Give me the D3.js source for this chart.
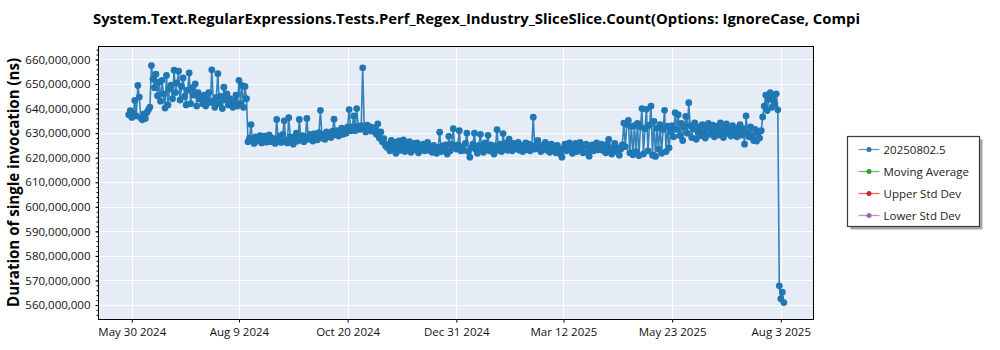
<!DOCTYPE html>
<html><head><meta charset="utf-8">
<script src="https://cdn.jsdelivr.net/npm/d3@7/dist/d3.min.js"></script>
<style>body{margin:0;background:#fff}text{font-family:"Open Sans","Noto Sans",sans-serif}</style>
</head><body><svg id="c" width="1000" height="350"></svg>
<script>
// ---------- data ----------
const chartTitle = "System.Text.RegularExpressions.Tests.Perf_Regex_Industry_SliceSlice.Count(Options: IgnoreCase, Compi";
const yTitle = "Duration of single invocation (ns)";
const legendNames = ["20250802.5", "Moving Average", "Upper Std Dev", "Lower Std Dev"];
const legendColors = ["#1f77b4", "#2ca02c", "#d62728", "#9467bd"];
const firstRunDate = "2024-05-28";           // one run per day from this date
const xDomain = ["2024-05-07T22:34:00Z", "2025-08-24T16:00:00Z"];
const yDomainM = [554.1, 665.28];            // millions of ns
const xTickDates = ["2024-05-30", "2024-08-09", "2024-10-20", "2024-12-31", "2025-03-12", "2025-05-23", "2025-08-03"];
const xTickLabels = ["May 30 2024", "Aug 9 2024", "Oct 20 2024", "Dec 31 2024", "Mar 12 2025", "May 23 2025", "Aug 3 2025"];
const yTicksM = [560, 570, 580, 590, 600, 610, 620, 630, 640, 650, 660];
// run durations, in millions of ns
const valuesM = [
  637.5, 639.2, 636.4, 638.1, 643.3, 637.0, 649.4, 644.7, 636.2, 635.4, 637.8, 636.0, 638.4, 639.5, 640.6,
  657.5, 652.0, 648.5, 654.0, 645.2, 650.8, 643.0, 651.5, 646.0, 640.2,
  653.5, 641.5, 648.0, 649.5, 644.0, 655.6, 646.5, 650.5, 655.2, 643.5,
  649.0, 652.5, 645.0, 641.5, 647.5, 654.5, 642.0, 648.5, 645.5, 650.0,
  641.0, 646.5, 644.0,
  644.5, 642.0, 645.5, 641.0, 643.5, 646.5, 642.5, 655.8, 643.0, 640.5,
  644.5, 654.2, 642.0, 645.0, 640.0, 648.7, 643.5, 646.0, 641.5, 644.0,
  642.5, 640.5, 643.0, 645.5, 641.0, 651.5, 642.0, 649.4, 640.5, 649.0,
  644.0,
  626.5, 628.0, 633.5, 627.0, 625.8, 628.5, 626.8, 627.5, 629.0, 626.0,
  627.8, 628.8, 626.3, 627.2, 629.3, 626.5, 628.0, 627.0, 625.8, 635.6,
  627.5, 628.8, 626.2, 629.5, 635.0, 627.0, 626.0, 636.3, 628.5, 627.3,
  625.5, 628.2, 630.0, 626.8, 635.6, 627.8, 629.0, 626.5, 628.3, 636.0,
  627.5, 629.5, 628.0, 626.8, 629.8, 628.5, 627.3, 630.2, 639.3, 628.0,
  629.5, 627.5, 630.5, 628.8, 629.8, 628.2, 630.8, 635.7, 629.3, 631.0,
  628.8, 630.5, 632.0, 629.5, 631.5, 630.0, 632.5, 639.6, 631.0,
  632.5, 637.0, 631.0, 640.0, 632.8, 631.5, 633.0, 656.6, 632.0, 630.5,
  633.2, 631.8, 632.5, 630.8, 632.2, 631.0,
  629.5, 633.8, 628.0, 630.5, 626.5, 627.8, 625.0, 624.2,
  625.5, 622.8, 627.0, 623.5, 626.2, 621.8, 625.0, 626.8, 623.0, 624.8,
  627.2, 622.5, 625.5, 623.8, 626.5, 622.2, 624.5, 625.8, 623.2, 626.0,
  622.0, 624.8, 623.5, 625.5, 622.8, 624.0, 626.2, 623.0, 624.5, 622.2,
  625.0, 623.5, 621.8, 624.2, 630.4, 622.5, 624.8, 623.0, 625.2, 621.5,
  628.7, 622.8, 625.5, 631.8, 624.5,
  623.5, 625.2, 631.0, 622.8, 624.5, 623.0, 625.8, 630.0, 622.5, 620.2,
  624.0, 625.5, 630.0, 623.2, 621.8, 625.0, 629.5, 623.8, 622.2, 626.0,
  624.0, 629.1, 622.8, 625.2, 623.5, 621.5, 624.8, 631.4, 623.0, 625.5,
  622.5, 629.8, 624.2, 626.0, 623.0, 627.5, 624.5, 622.8, 625.8, 623.5,
  624.8, 626.2, 623.0, 625.0, 622.5, 624.5, 626.0, 623.2, 625.5, 622.8,
  624.8, 636.5, 623.5, 625.2, 627.0, 623.8, 622.5, 625.0, 624.0, 626.2,
  623.0, 624.5, 622.2, 625.5, 623.5, 624.8, 622.0, 625.0, 623.2, 621.5,
  620.2, 623.8, 625.5, 622.8, 624.2, 626.0, 623.0, 621.8, 624.5, 625.8,
  622.5, 624.0, 626.2, 623.5, 622.0, 624.8, 625.5, 622.2, 620.6, 623.8,
  625.2, 622.8, 624.5, 626.0, 623.2, 624.0, 625.5,
  623.0, 624.8, 622.0, 625.5, 627.4, 623.5, 621.5, 624.2, 625.8, 622.5,
  624.0, 621.0, 623.5, 625.2, 634.1, 624.5,
  633.5, 635.2, 622.0, 632.8, 621.2, 633.0, 622.5, 634.0, 620.8, 632.5,
  640.0, 621.5, 631.8, 639.7, 622.8, 633.2, 641.0, 621.0, 634.8, 620.5,
  632.0, 623.5, 633.5, 621.8, 631.5, 639.3, 622.5, 632.8, 624.0,
  630.5, 633.0, 628.5, 638.3, 631.5, 637.5, 629.0, 634.0, 627.0, 632.5,
  636.8, 630.0, 642.4, 633.0, 628.2, 631.8, 634.2, 627.5, 630.8, 632.5,
  629.0, 633.5, 630.2, 628.0, 632.0, 634.0, 629.5, 631.2, 633.2, 628.5,
  630.5, 632.8, 629.2, 634.2, 630.8, 628.2, 632.2, 633.8, 629.8, 631.5,
  628.8, 633.0, 630.5, 632.0, 628.5, 631.0, 633.5, 629.2, 631.8, 625.5,
  637.0, 630.0, 628.5, 632.5,
  629.0, 627.0, 631.5, 626.8, 630.5, 628.0, 631.0,
  636.6, 641.0, 645.5, 639.2, 643.8, 646.5, 640.5, 644.5, 642.0, 646.0, 639.5,
  567.8, 562.5, 565.2, 561.0
];

// ---------- chart ----------
const svg = d3.select("#c");
const P = {left: 98.5, right: 813.5, top: 46.5, bottom: 319.5};
const parseDay = d3.utcParse("%Y-%m-%d");
const start = parseDay(firstRunDate);
const data = valuesM.map((v, i) => ({date: d3.utcDay.offset(start, i), value: v * 1e6}));

const x = d3.scaleUtc().domain(xDomain.map(d => d3.isoParse(d))).range([P.left, P.right]);
const y = d3.scaleLinear().domain(yDomainM.map(d => d * 1e6)).range([P.bottom, P.top]);
const yTicks = yTicksM.map(d => d * 1e6);
const xTicks = xTickDates.map(parseDay);

svg.append("rect").attr("width", 1000).attr("height", 350).attr("fill", "#fff");
svg.append("rect").attr("x", P.left).attr("y", P.top)
  .attr("width", P.right - P.left).attr("height", P.bottom - P.top).attr("fill", "#e5ecf6");

// grid
const grid = svg.append("g").attr("stroke", "#fff").attr("stroke-width", 1);
grid.selectAll(".gy").data(yTicks).join("line")
  .attr("x1", P.left).attr("x2", P.right)
  .attr("y1", d => Math.round(y(d)) + 0.5).attr("y2", d => Math.round(y(d)) + 0.5);
grid.selectAll(".gx").data(xTicks).join("line")
  .attr("y1", P.top).attr("y2", P.bottom)
  .attr("x1", d => Math.round(x(d)) + 0.5).attr("x2", d => Math.round(x(d)) + 0.5);

// series
const c0 = legendColors[0];
svg.append("path").datum(data)
  .attr("fill", "none").attr("stroke", c0).attr("stroke-width", 1.6).attr("stroke-opacity", 0.9)
  .attr("d", d3.line().x(d => x(d.date)).y(d => y(d.value)));
svg.append("g").selectAll("circle").data(data).join("circle")
  .attr("cx", d => x(d.date)).attr("cy", d => y(d.value)).attr("r", 3.4).attr("fill", c0);

// frame
svg.append("rect").attr("x", P.left).attr("y", P.top)
  .attr("width", P.right - P.left).attr("height", P.bottom - P.top)
  .attr("fill", "none").attr("stroke", "#000").attr("stroke-width", 1);

// axes
const minorY = d3.range(556, 665, 2).map(d => d * 1e6);
const yMinor = svg.append("g").attr("transform", `translate(${P.left},0)`)
  .call(d3.axisLeft(y).tickValues(minorY).tickSize(2).tickFormat(""));
yMinor.select(".domain").remove();
const yAx = svg.append("g").attr("transform", `translate(${P.left},0)`)
  .call(d3.axisLeft(y).tickValues(yTicks).tickSize(3).tickPadding(5).tickFormat(d3.format(",")));
yAx.select(".domain").remove();
yAx.selectAll("text").attr("font-size", 11.5).attr("fill", "#111").style("font-family", '"Open Sans","Noto Sans",sans-serif');

const xAx = svg.append("g").attr("transform", `translate(0,${P.bottom})`)
  .call(d3.axisBottom(x).tickValues(xTicks).tickSize(3).tickPadding(5).tickFormat((d, i) => xTickLabels[i]));
xAx.select(".domain").remove();
xAx.selectAll("text").attr("font-size", 11.5).attr("fill", "#111").style("font-family", '"Open Sans","Noto Sans",sans-serif');

// titles
svg.append("text").attr("x", 93).attr("y", 24).attr("font-size", 15).attr("font-weight", "bold")
  .attr("textLength", 767).attr("lengthAdjust", "spacingAndGlyphs").attr("fill", "#000").text(chartTitle);
svg.append("text").attr("transform", "translate(19,182.5) rotate(-90)").attr("text-anchor", "middle")
  .attr("font-size", 15.5).attr("font-weight", "bold")
  .attr("textLength", 249).attr("lengthAdjust", "spacingAndGlyphs").attr("fill", "#000").text(yTitle);

// legend
const L = {x: 847.5, y: 136.5, w: 132, h: 90};
svg.append("rect").attr("x", L.x + 3).attr("y", L.y + 3).attr("width", L.w).attr("height", L.h).attr("fill", "#a8a8a8");
svg.append("rect").attr("x", L.x).attr("y", L.y).attr("width", L.w).attr("height", L.h)
  .attr("fill", "#fff").attr("stroke", "#3a3a3a").attr("stroke-width", 1.2);
const li = svg.append("g").selectAll("g").data(legendNames).join("g")
  .attr("transform", (d, i) => `translate(${L.x}, ${L.y + 13 + i * 22})`);
li.append("line").attr("x1", 11).attr("x2", 32).attr("y1", 0).attr("y2", 0)
  .attr("stroke", (d, i) => legendColors[i]).attr("stroke-opacity", 0.7).attr("stroke-width", 1.3);
li.append("circle").attr("cx", 21.5).attr("cy", 0).attr("r", 2.5).attr("fill", (d, i) => legendColors[i]);
li.append("text").attr("x", 36).attr("y", 4).attr("font-size", 11.5).attr("fill", "#222").text(d => d);
</script></body></html>
